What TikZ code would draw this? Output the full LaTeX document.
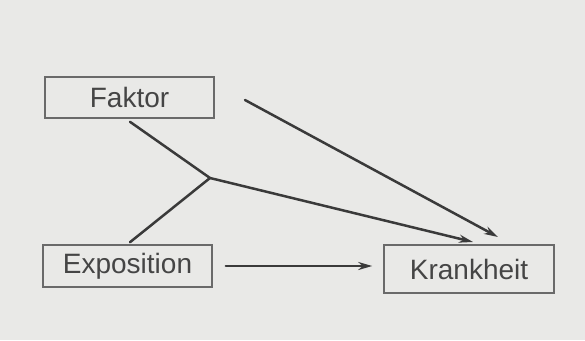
\documentclass[tikz,border=0pt]{standalone}
\usepackage{fontspec}
\setmainfont{Liberation Sans}
\usetikzlibrary{arrows.meta,calc}
\definecolor{bgc}{HTML}{E9E9E7}
\definecolor{txt}{HTML}{454545}
\definecolor{boxc}{HTML}{6A6A6A}
\definecolor{arrc}{HTML}{3A3A3A}
\tikzset{
  box/.style={draw=boxc, line width=1.6pt, fill=bgc, text=txt, inner sep=0pt,
    font=\fontsize{28}{30}\selectfont},
  conn/.style={draw=arrc, line width=2.5pt, line cap=round},
  arr/.style={conn, -{Stealth[length=14pt,width=8pt]}}
}
\begin{document}
\begin{tikzpicture}[x=1pt,y=-1pt]
\fill[bgc] (0,0) rectangle (585,340);
\useasboundingbox (0,0) rectangle (585,340);
\node[box, minimum width=169pt, minimum height=41pt] (F) at (129.5,97.5) {Faktor};
\node[box, minimum width=169pt, minimum height=42pt] (E) at (127.5,266) {Exposition};
\node[box, minimum width=170pt, minimum height=48pt] (K) at (469,269) {Krankheit};
\coordinate (J) at (210,178);
\coordinate (Fs) at (245,100);
\coordinate (Kt1) at (473,242);
\coordinate (Kt2) at (498,237);
\draw[conn] ($(F.south)+(0.5,3)$) -- (J);
\draw[conn] ($(E.north)+(2.5,-2)$) -- (J);
\draw[arr] (J) -- (Kt1);
\draw[arr] (Fs) -- (Kt2);
\draw[arr, shorten <=13pt, shorten >=11pt] (E.east) -- (K.west |- E.east);
\end{tikzpicture}
\end{document}
